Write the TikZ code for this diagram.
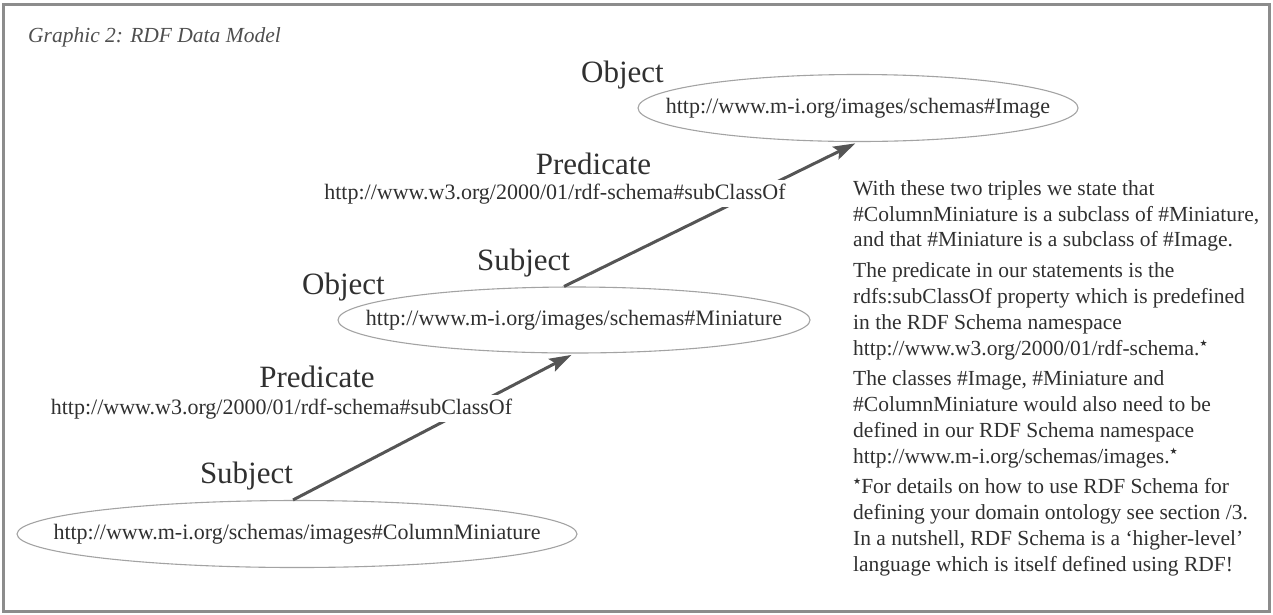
\documentclass[tikz,border=0pt]{standalone}
\usepackage{fontspec}
\setmainfont{Liberation Serif}
\newfontfamily\symfont{DejaVu Sans}
\usetikzlibrary{shapes.geometric,arrows.meta}
\definecolor{ink}{HTML}{303030}
\definecolor{rim}{HTML}{A3A3A3}
\definecolor{frm}{HTML}{8C8C8C}
\definecolor{arr}{HTML}{555555}
\newcommand{\fnstar}{\raisebox{0.42em}{\symfont\fontsize{9}{9}\selectfont ★}}
\begin{document}
\begin{tikzpicture}[x=1pt,y=-1pt,
 res/.style={ellipse,draw=rim,line width=1.1pt,inner sep=0pt,text=ink,font=\fontsize{22}{26}\selectfont},
 role/.style={anchor=base,text=ink,inner sep=0pt,font=\fontsize{31}{36}\selectfont},
 uri/.style={anchor=base,text=ink,fill=white,inner xsep=2pt,inner ysep=3.5pt,font=\fontsize{22}{26}\selectfont},
 link/.style={draw=arr,line width=3pt,shorten >=3pt,-{Stealth[length=22pt,width=14pt,inset=4pt]}}]
\useasboundingbox (0,0) rectangle (1273,614);
\draw [frm, line width=3pt] (3.5,4) rectangle (1269.5,611);
\node [anchor=base west, inner sep=0pt, text=ink!85, font=\itshape\fontsize{21.5}{26}\selectfont] (ttl) at (28,42) {Graphic 2: RDF Data Model};
\node [res, minimum width=440pt, minimum height=67pt] (img) at (858,108) {\makebox[0pt]{http://www.m-i.org/images/schemas\#Image}};
\node [res, minimum width=472pt, minimum height=66pt] (mini) at (574,320) {\makebox[0pt]{http://www.m-i.org/images/schemas\#Miniature}};
\node [res, minimum width=560pt, minimum height=67pt] (col) at (297,534) {\makebox[0pt]{http://www.m-i.org/schemas/images\#ColumnMiniature}};
\draw [link] ([xshift=-4pt]col.north) -- (mini.south);
\draw [link] ([xshift=-10pt]mini.north) -- (img.south);
\node [role] (o1) at (622.5,82) {Object};
\node [role] (p1) at (593.5,174) {Predicate};
\node [uri] (u1) at (555,199) {http://www.w3.org/2000/01/rdf-schema\#subClassOf};
\node [role] (s1) at (523.5,270) {Subject};
\node [role] (o2) at (343.5,294) {Object};
\node [role] (p2) at (317,387) {Predicate};
\node [uri] (u2) at (281.5,414) {http://www.w3.org/2000/01/rdf-schema\#subClassOf};
\node [role] (s2) at (246.5,483) {Subject};
\node [anchor=north west, inner sep=0pt, align=left, text=ink, font=\fontsize{21.5}{25.9}\selectfont] (note) at (853,180) {With these two triples we state that\\
\#ColumnMiniature is a subclass of \#Miniature,\\
and that \#Miniature is a subclass of \#Image.\\[4.5pt]
The predicate in our statements is the\\
rdfs:subClassOf property which is predefined\\
in the RDF Schema namespace\\
http://www.w3.org/2000/01/rdf-schema.\fnstar\\[4.5pt]
The classes \#Image, \#Miniature and\\
\#ColumnMiniature would also need to be\\
defined in our RDF Schema namespace\\
http://www.m-i.org/schemas/images.\fnstar\\[4.5pt]
\fnstar For details on how to use RDF Schema for\\
defining your domain ontology see section /3.\\
In a nutshell, RDF Schema is a `higher-level'\\
language which is itself defined using RDF!};
\end{tikzpicture}
\end{document}
